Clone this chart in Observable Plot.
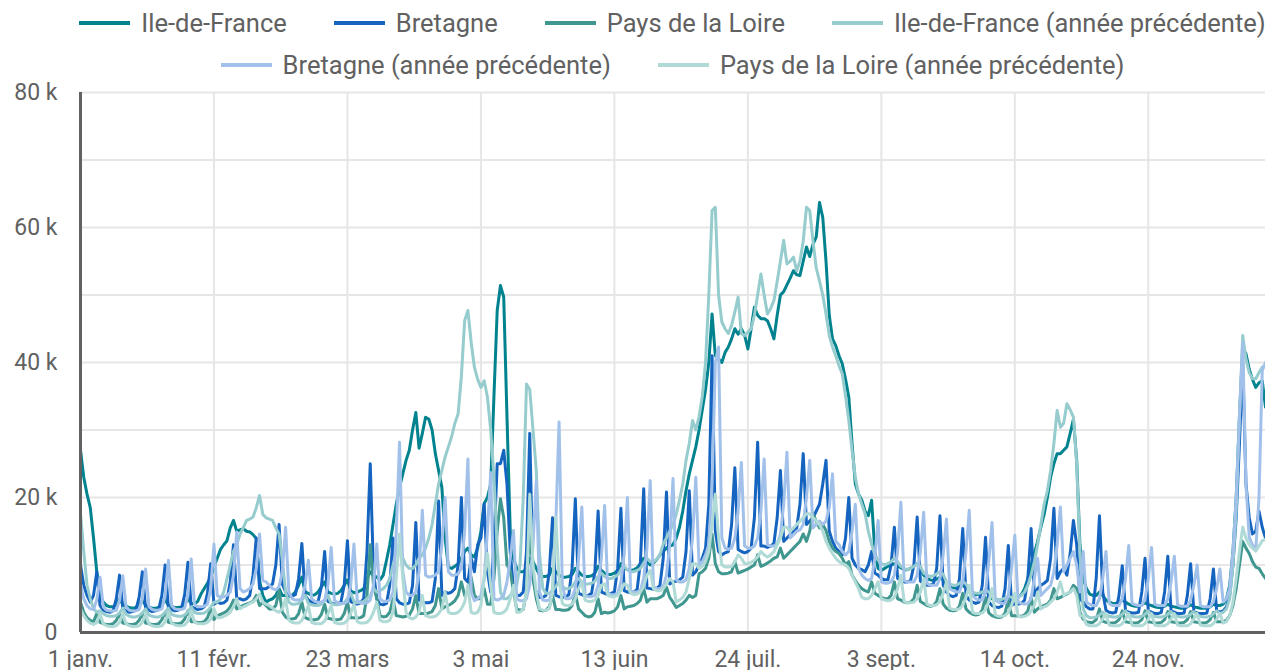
<!DOCTYPE html>
<html>
<head>
<meta charset="utf-8">
<script src="https://cdn.jsdelivr.net/npm/d3@7"></script>
<script src="https://cdn.jsdelivr.net/npm/@observablehq/plot@0.6"></script>
<style>
  html, body { margin: 0; padding: 0; background: #fff; overflow: hidden; }
  #legend { position: relative; height: 82px; width: 1265px; font-family: Roboto, sans-serif; font-size: 25.5px; color: #616161; }
  .row { position: absolute; left: 80px; width: 1185px; display: flex; justify-content: center; gap: 47px; line-height: 36px; white-space: nowrap; }
  .item { display: flex; align-items: center; }
  .sw { display: inline-block; width: 51px; height: 4px; margin-right: 11px; }
</style>
</head>
<body>
<div id="legend"></div>
<div id="chart"></div>
<script>
// Series names and colours
const seriesNames = ["Ile-de-France", "Bretagne", "Pays de la Loire",
  "Ile-de-France (année précédente)", "Bretagne (année précédente)", "Pays de la Loire (année précédente)"];
const seriesColors = ["#00838F", "#1565C0", "#3F978F", "#96CCCE", "#A1C1EA", "#B0DAD6"];

// x tick positions (day of year, 2024) and labels
const xTickDays = [0, 41, 82, 123, 164, 205, 246, 287, 328];
const xTickLabels = ["1 janv.", "11 févr.", "23 mars", "3 mai", "13 juin", "24 juil.", "3 sept.", "14 oct.", "24 nov."];
const yTicks = [0, 20, 40, 60, 80];
const yGrid = [10, 20, 30, 40, 50, 60, 70, 80];

// Daily values in thousands (one line per week, Monday first)
const ileDeFrance = [
27,23,20.5,18.5,14,9,5.5,
4.5,4.0,3.8,3.8,4.2,5.0,4.2,
3.9,3.7,3.6,3.7,4.1,4.8,4.0,
3.8,3.6,3.6,3.7,4.1,4.9,4.0,
3.9,3.7,3.7,3.8,4.2,5.0,4.3,
4.3,4.6,5.7,6.5,7.3,8.2,9.7,
11.0,12.3,13.0,13.6,15.5,16.6,15.0,
15.2,15.4,15.0,14.9,14.5,13.9,7.7,
5.5,4.5,4.8,5.0,5.5,6.5,5.5,
5.5,5.3,5.5,6.0,7.0,8.2,6.0,
5.8,5.5,5.6,6.0,6.8,7.5,6.0,
5.8,5.7,5.8,6.2,7.0,7.8,6.2,
5.9,6.0,6.2,6.5,8.0,9.0,8.5,
8.2,7.8,8.5,10.7,13.0,16.0,19.0,
21.5,23.5,25.5,27.0,30.0,32.6,27.3,
29.5,31.9,31.6,30.0,26.5,24.0,21.5,
14.0,9.7,9.5,9.8,10.2,11.0,12.0,
12.5,11.5,11.2,12.5,15.0,19.1,20.0,
22.0,35.0,47.7,51.4,49.7,32.0,15.1,
11.0,9.5,9.0,9.0,9.5,11.0,10.5,
9.5,8.5,8.3,8.3,8.5,9.5,9.0,
8.5,8.2,8.2,8.3,8.6,9.5,9.0,
8.5,8.3,8.3,8.4,8.8,9.8,9.2,
8.8,8.6,8.6,8.8,9.2,10.2,9.6,
9.3,9.2,9.3,9.6,10.2,11.0,10.5,
10.0,10.3,10.8,11.5,12.0,12.5,12.8,
13.0,14.0,15.6,18.0,21.0,23.5,25.5,
27.5,30.0,33.0,36.0,40.0,47.2,41.0,
40.5,40.0,41.5,42.3,43.5,45.0,44.2,
45.0,44.0,42.0,45.0,48.2,47.0,46.5,
46.5,46.2,45.0,43.5,47.0,50.0,50.5,
51.5,52.5,53.6,53.0,52.9,55.0,57.1,
55.7,57.5,58.6,63.7,61.5,55.0,47.0,
43.5,42.5,41.0,39.8,37.5,34.9,28.0,
22.0,20.5,19.6,18.0,17.3,19.6,12.0,
9.5,9.2,9.5,9.8,10.0,10.2,9.8,
9.6,9.3,9.3,9.5,9.8,10.2,9.5,
8.5,8.0,7.8,7.7,7.9,8.2,7.8,
7.0,6.7,6.6,6.6,6.8,7.0,6.6,
6.0,5.7,5.6,5.7,5.9,6.1,5.7,
5.0,4.8,4.7,4.8,5.0,5.3,5.0,
5.2,5.3,5.6,6.5,8.0,10.0,11.7,
13.5,15.6,17.5,20.0,23.0,25.0,26.5,
26.5,27.0,27.5,29.5,31.6,25.5,13.0,
8.0,6.5,5.7,5.5,5.5,6.0,5.5,
4.8,4.5,4.3,4.3,4.5,4.8,4.5,
4.2,4.0,3.9,3.9,4.1,4.4,4.1,
4.0,3.8,3.7,3.7,3.9,4.2,3.9,
3.8,3.7,3.6,3.6,3.8,4.1,3.8,
3.7,3.6,3.6,3.6,3.8,4.2,4.0,
4.0,4.2,5.0,7.0,12.0,20.0,32.0,
42.0,41.3,39.0,37.5,36.3,37.0,37.3,
33.4];

const bretagne = [
10,7,5.5,4.5,5.5,9,4,
3.3,3.1,3.0,3.2,5.0,8.5,3.5,
3.2,3.0,3.1,3.3,5.2,9.0,3.6,
3.3,3.1,3.2,3.4,5.5,10.0,3.7,
3.4,3.2,3.3,3.5,5.6,10.4,3.8,
3.6,3.4,3.5,3.8,5.8,10.2,4.2,
4.5,4.3,4.4,4.8,7.5,13.0,5.0,
5.0,4.8,5.0,5.5,8.5,14.0,6.5,
6.5,6.5,6.8,7.2,10.0,16.0,7.2,
6.0,5.5,5.4,5.6,8.0,13.2,5.5,
4.8,4.5,4.4,4.6,6.8,12.0,4.6,
4.4,4.2,4.3,4.5,7.0,13.6,4.6,
4.3,4.2,4.4,5.0,12.0,25.0,9.0,
5.0,4.2,4.1,4.3,7.0,14.0,5.0,
4.4,4.2,4.2,4.4,7.0,16.3,4.8,
4.5,4.4,4.4,4.6,8.0,19.5,5.5,
6.0,5.8,6.0,6.5,10.0,20.0,8.0,
7.5,11.0,9.0,13.0,14.0,19.0,9.0,
6.0,13.0,25.0,25.0,27.0,22.0,12.0,
6.5,5.5,5.5,6.0,12.0,29.5,8.0,
6.0,5.2,5.2,5.5,9.0,17.0,5.5,
5.3,5.2,5.3,5.6,9.5,19.8,5.8,
5.6,5.4,5.5,5.8,9.0,18.0,6.0,
5.8,5.6,5.8,6.0,9.5,18.4,6.2,
6.0,5.9,6.0,6.4,10.5,21.3,6.6,
6.5,6.4,6.5,7.0,11.0,20.8,7.2,
7.5,7.6,7.8,8.2,12.0,21.0,8.5,
9.0,10.0,11.0,12.5,19.0,41.0,15.0,
12.0,11.5,11.8,12.0,16.0,24.4,12.3,
12.0,11.8,12.0,12.5,17.0,28.2,12.8,
12.8,12.6,12.8,13.2,17.0,24.0,13.5,
14.0,14.5,15.0,15.5,19.0,26.5,16.0,
16.5,17.0,18.0,19.0,22.0,25.5,15.0,
13.5,12.5,12.0,11.5,14.0,20.0,11.0,
10.0,9.5,9.3,9.0,10.0,12.0,8.8,
8.5,8.0,7.8,7.8,10.0,15.6,8.0,
7.7,7.5,7.5,7.7,10.0,17.1,7.6,
7.2,7.0,7.0,7.2,9.5,17.3,7.0,
6.0,5.5,5.3,5.5,8.0,15.4,5.5,
4.8,4.5,4.3,4.5,7.0,14.1,4.5,
4.0,3.8,3.7,3.9,6.5,12.9,4.0,
4.3,4.2,4.3,4.8,8.0,15.4,5.5,
6.5,7.0,7.3,7.7,11.0,18.4,8.0,
9.0,9.5,8.5,11.7,16.6,13.0,5.0,
4.5,3.8,3.5,3.5,8.0,17.3,6.0,
3.3,3.0,2.9,3.0,5.5,9.9,3.2,
3.0,2.9,2.9,3.0,6.0,11.0,3.2,
3.0,2.8,2.8,3.0,6.0,11.3,3.2,
3.0,2.8,2.8,2.9,5.5,10.2,3.1,
2.9,2.8,2.8,2.9,5.0,9.4,3.2,
3.0,3.2,3.8,5.5,10.0,17.0,28.0,
40.0,22.0,17.0,14.6,15.0,18.0,15.6,
14.0];

const paysDeLaLoire = [
4.5,3.0,2.2,1.8,1.6,2.8,1.5,
1.3,1.2,1.2,1.3,1.8,2.8,1.4,
1.3,1.2,1.2,1.3,1.8,2.8,1.4,
1.3,1.2,1.2,1.3,1.9,3.0,1.5,
1.4,1.3,1.3,1.4,2.0,3.2,1.6,
1.6,1.5,1.5,1.6,2.2,3.5,1.9,
2.5,2.7,2.9,3.2,3.8,4.8,3.5,
3.8,4.0,4.2,4.4,4.6,5.5,4.0,
4.5,4.0,3.5,3.5,4.0,6.2,3.0,
2.3,2.0,2.0,2.1,2.8,4.5,2.2,
2.0,1.9,1.9,2.0,2.7,4.2,2.1,
2.0,1.9,1.9,2.0,2.8,4.5,2.2,
2.2,2.1,2.2,2.5,5.5,13.0,7.0,
5.0,2.5,2.3,2.4,3.0,5.0,2.5,
2.4,2.3,2.4,2.6,3.5,5.5,2.8,
2.8,2.8,2.9,3.1,4.0,6.5,3.5,
3.8,4.0,4.3,4.7,5.5,7.5,5.5,
6.0,8.2,5.5,5.0,5.0,6.5,4.2,
4.2,8.0,15.0,19.8,17.0,10.0,9.2,
6.0,3.5,3.3,3.4,6.0,16.1,8.0,
5.0,3.3,3.2,3.3,3.8,5.5,3.4,
3.4,3.3,3.3,3.4,4.0,5.8,3.5,
3.0,2.5,2.3,2.4,3.0,5.0,2.8,
3.0,2.9,3.0,3.2,3.8,5.5,3.5,
3.8,3.9,4.0,4.3,4.8,6.5,4.5,
5.0,5.0,5.0,5.2,5.5,6.7,5.2,
4.5,3.7,4.0,4.3,4.8,5.5,5.2,
5.5,8.7,9.0,9.5,11.0,14.6,10.2,
9.0,8.7,8.7,8.8,9.0,10.5,8.8,
9.0,9.2,9.4,9.7,10.0,11.5,9.8,
10.0,10.3,10.6,11.0,11.2,12.5,11.0,
11.5,12.0,12.5,13.0,13.5,14.6,13.5,
15.0,17.6,16.5,15.5,16.0,15.1,13.5,
12.5,12.0,11.7,11.0,10.0,10.5,8.5,
7.7,7.0,6.5,6.2,6.0,7.5,5.8,
5.5,5.2,5.0,5.0,5.5,7.5,5.0,
4.8,4.5,4.4,4.5,5.0,7.0,4.6,
4.3,4.0,3.9,4.0,4.6,6.5,4.2,
3.6,3.3,3.2,3.3,3.9,5.8,3.5,
3.0,2.7,2.6,2.7,3.3,5.2,2.9,
2.5,2.3,2.2,2.3,2.9,4.8,2.5,
2.5,2.4,2.4,2.6,3.2,5.2,3.0,
3.5,3.8,4.0,4.2,4.8,6.5,5.0,
5.2,5.5,5.7,6.0,7.0,6.5,3.0,
2.0,1.6,1.5,1.5,1.9,3.5,1.7,
1.5,1.4,1.4,1.5,1.9,3.2,1.6,
1.5,1.4,1.4,1.5,1.9,3.2,1.6,
1.5,1.4,1.4,1.5,1.9,3.1,1.6,
1.5,1.4,1.4,1.5,1.9,3.1,1.6,
1.5,1.4,1.4,1.5,1.9,3.0,1.6,
1.6,1.6,1.8,2.5,4.0,6.5,10.0,
13.5,12.5,11.7,10.5,9.7,9.5,8.7,
8.0];

const ileDeFrancePrev = [
17.6,12.0,7.0,5.0,3.5,3.0,3.2,
2.8,2.5,2.4,2.4,2.5,2.9,3.6,
2.7,2.4,2.3,2.3,2.5,2.9,3.5,
2.6,2.4,2.3,2.3,2.5,3.0,3.6,
2.7,2.5,2.4,2.4,2.6,3.1,3.8,
3.0,2.8,2.8,2.9,3.2,3.8,4.5,
4.5,5.0,6.0,8.0,10.0,12.0,13.0,
14.6,15.5,16.6,16.8,17.1,18.5,20.3,
17.5,17.0,16.8,16.6,15.5,14.6,10.7,
6.0,4.5,4.2,4.2,4.3,4.8,5.5,
4.3,4.1,4.0,4.0,4.2,4.7,5.5,
4.3,4.1,4.1,4.2,4.4,5.0,5.8,
4.6,4.4,4.5,4.6,5.0,5.5,6.5,
6.0,6.2,6.5,7.0,8.0,10.0,12.0,
13.0,11.0,10.0,9.5,9.5,10.0,11.0,
11.5,12.5,14.0,16.0,19.0,22.0,24.0,
26.0,27.5,29.0,31.0,32.4,38.0,46.2,
47.7,43.0,39.3,37.5,36.3,37.3,34.9,
30.0,23.0,12.6,6.0,5.0,5.0,5.5,
6.0,7.0,10.0,20.0,36.8,36.0,30.0,
24.0,11.7,6.5,5.8,5.8,6.2,6.8,
7.5,6.8,6.5,6.5,6.8,7.5,8.0,
7.5,7.2,7.2,7.3,7.6,8.3,8.8,
8.3,8.0,8.0,8.2,8.5,9.2,9.8,
9.3,9.0,9.0,9.2,9.5,10.3,11.0,
10.5,10.5,10.8,11.5,13.1,14.0,15.0,
16.0,17.5,19.6,22.0,25.5,28.0,31.4,
30.0,32.0,35.0,40.0,50.0,62.5,63.0,
50.0,46.0,45.0,44.3,45.5,47.5,49.7,
44.3,44.0,44.5,45.0,47.0,50.0,53.1,
50.0,47.2,48.0,49.2,52.0,55.0,58.1,
54.6,55.0,55.6,53.6,55.0,58.0,63.0,
62.5,58.0,54.0,52.1,50.0,47.2,44.0,
42.3,41.0,39.5,38.3,35.0,31.4,27.0,
23.0,20.5,19.0,17.6,15.0,13.1,11.5,
10.7,10.2,10.0,10.2,10.5,11.0,10.5,
9.8,9.5,9.3,9.5,9.8,10.2,9.8,
8.8,8.5,8.3,8.4,8.7,9.0,8.6,
7.5,7.2,7.0,7.0,7.3,7.6,7.2,
6.3,6.0,5.8,5.8,6.0,6.3,6.0,
5.3,5.0,4.9,4.9,5.1,5.4,5.2,
5.0,5.2,5.5,6.0,7.0,8.5,10.5,
13.0,16.0,19.0,21.0,24.0,28.0,32.9,
30.4,31.0,33.9,33.0,31.9,25.0,11.7,
3.5,2.5,2.2,2.2,2.3,2.6,3.0,
2.6,2.4,2.3,2.3,2.4,2.7,3.2,
2.6,2.4,2.3,2.3,2.4,2.7,3.2,
2.6,2.4,2.3,2.3,2.4,2.7,3.1,
2.6,2.4,2.3,2.3,2.4,2.7,3.1,
2.6,2.4,2.3,2.3,2.4,2.8,3.2,
2.8,3.0,3.5,5.0,10.0,18.0,32.0,
44.0,40.5,38.5,37.6,37.6,38.5,39.3,
39.5];

const bretagnePrev = [
7.2,5.0,4.0,3.5,3.4,4.8,8.2,
3.8,3.3,3.2,3.2,3.3,4.8,8.4,
3.8,3.3,3.2,3.2,3.4,5.0,9.4,
3.9,3.4,3.3,3.3,3.5,5.5,10.7,
4.0,3.5,3.4,3.4,3.6,5.6,10.9,
4.2,3.8,3.8,3.9,4.2,6.5,13.1,
5.5,5.2,5.3,5.5,6.0,8.5,14.9,
6.5,6.0,6.2,6.5,7.2,9.5,14.6,
7.7,7.5,7.0,6.5,6.3,6.8,9.0,
15.6,6.0,5.0,4.8,4.8,5.0,7.0,
10.7,5.0,4.6,4.5,4.5,4.8,7.0,
12.6,4.8,4.4,4.3,4.3,4.6,7.0,
13.1,4.8,4.4,4.3,4.4,4.8,7.0,
13.1,5.0,4.6,4.6,4.8,6.0,15.0,
28.2,9.0,6.0,5.5,5.5,6.0,9.0,
18.1,8.5,8.2,8.3,8.5,9.0,13.0,
20.0,9.0,8.5,8.5,8.7,9.5,15.0,
25.7,6.0,4.7,5.0,5.5,8.0,15.0,
23.7,5.0,4.8,5.0,5.5,7.5,11.0,
15.1,5.0,4.7,4.7,5.0,7.0,13.0,
22.5,6.0,4.8,4.7,4.8,6.5,16.0,
31.2,7.0,5.0,5.0,5.2,6.5,11.0,
18.6,5.5,5.3,5.3,5.5,7.0,11.0,
18.8,5.8,5.6,5.6,5.8,7.5,11.5,
20.0,6.2,6.0,6.0,6.2,8.0,12.5,
22.5,6.8,6.5,6.5,6.8,8.5,13.0,
22.8,7.8,7.5,7.5,7.8,9.5,14.0,
23.0,10.0,10.5,11.5,13.0,22.0,40.0,
42.3,14.0,12.5,12.3,12.5,14.0,18.0,
25.2,12.8,12.5,12.5,12.8,14.0,18.0,
25.7,13.0,12.8,12.8,13.2,14.5,19.0,
26.7,14.0,14.5,15.0,15.2,16.0,20.0,
25.5,15.5,16.0,16.5,16.0,16.5,18.5,
23.5,13.5,13.0,12.0,11.5,12.0,15.0,
19.0,9.5,8.5,8.0,7.7,8.0,11.0,
16.6,7.5,7.3,7.3,7.5,8.5,12.0,
19.3,7.7,7.5,7.5,7.5,8.5,12.0,
17.8,7.3,7.0,7.0,7.0,8.0,11.5,
16.8,6.5,6.2,6.0,6.0,7.5,12.0,
18.1,5.5,5.0,4.8,4.8,6.0,10.5,
16.3,4.8,4.5,4.3,4.3,5.5,9.5,
14.4,4.5,4.3,4.2,4.3,5.0,8.0,
11.0,5.5,6.0,6.5,7.0,9.0,13.0,
18.6,9.0,10.0,11.0,12.0,10.0,6.0,
12.0,4.5,4.2,4.0,4.0,5.0,8.0,
12.0,4.3,4.0,4.0,4.0,5.0,8.0,
12.9,4.3,4.1,4.0,4.0,5.0,8.0,
12.6,4.2,4.0,4.0,4.0,5.0,7.5,
11.3,4.1,3.9,3.9,3.9,4.8,7.0,
10.0,4.0,3.8,3.8,3.8,4.6,6.5,
9.4,4.5,5.0,6.5,12.0,20.0,32.0,
43.0,22.0,14.1,13.0,12.1,20.0,38.8,
40.0];

const paysDeLaLoirePrev = [
3.5,2.5,1.8,1.4,1.2,1.5,2.8,
1.3,1.0,0.9,0.9,1.0,1.5,2.8,
1.3,1.0,0.9,0.9,1.0,1.5,2.8,
1.3,1.0,0.9,0.9,1.0,1.6,3.0,
1.4,1.1,1.0,1.0,1.1,1.7,3.2,
1.6,1.3,1.3,1.3,1.5,2.0,3.5,
2.2,2.2,2.4,2.6,3.0,3.8,5.0,
3.5,3.8,4.0,4.3,4.5,5.0,5.7,
4.5,4.2,4.0,3.6,3.2,3.0,3.5,
5.0,1.8,1.5,1.4,1.4,1.8,2.8,
4.0,1.5,1.3,1.3,1.3,1.7,2.7,
4.0,1.5,1.3,1.3,1.4,1.8,2.8,
4.2,1.6,1.4,1.4,1.5,2.0,3.0,
4.5,1.8,1.6,1.6,1.8,3.0,8.0,
14.6,8.0,3.0,2.2,2.0,2.3,3.0,
5.5,2.5,2.3,2.3,2.4,2.8,3.5,
6.0,3.0,2.8,2.8,3.0,3.5,4.5,
7.0,3.0,2.8,3.0,4.0,8.0,11.7,
7.0,3.0,2.8,2.8,3.0,3.5,5.0,
7.0,3.0,3.0,3.5,6.0,20.5,10.0,
6.0,3.5,3.3,3.3,3.5,6.0,17.1,
8.0,4.3,4.0,4.0,4.2,5.0,6.5,
7.5,4.8,4.6,4.6,4.8,5.5,7.0,
7.2,5.5,5.3,5.3,5.5,6.2,7.2,
7.0,5.8,5.6,5.7,6.0,6.8,8.5,
9.2,6.5,6.2,6.2,6.5,7.2,8.0,
7.5,4.5,4.8,5.2,6.0,8.0,10.2,
10.2,9.5,9.8,10.5,12.0,16.0,20.5,
14.0,10.0,9.7,9.7,9.8,10.5,11.5,
11.0,10.2,10.2,10.4,10.7,11.2,12.0,
11.5,11.2,11.5,12.0,13.0,14.0,15.6,
15.6,15.0,15.5,16.0,16.5,17.0,17.6,
17.6,17.0,16.6,16.0,15.0,13.5,12.5,
11.7,11.0,10.5,10.2,10.0,9.5,8.5,
7.5,6.5,5.2,5.0,5.0,5.5,6.5,
7.5,5.0,4.8,4.7,4.8,5.2,6.5,
8.5,4.6,4.4,4.4,4.5,5.0,6.0,
8.0,4.2,4.0,4.0,4.1,4.6,5.8,
7.5,3.6,3.4,3.4,3.5,4.0,5.2,
7.0,3.0,2.8,2.8,2.9,3.4,4.6,
6.5,2.6,2.4,2.4,2.5,3.0,4.0,
5.8,2.4,2.3,2.4,2.6,3.2,4.0,
6.0,3.5,3.8,4.0,4.5,5.0,6.0,
7.5,5.5,5.8,6.0,6.5,5.5,2.5,
2.5,1.2,1.0,1.0,1.0,1.3,2.0,
2.8,1.1,1.0,1.0,1.0,1.3,2.0,
2.8,1.1,1.0,1.0,1.0,1.3,2.0,
2.8,1.1,1.0,1.0,1.0,1.3,2.0,
2.8,1.1,1.0,1.0,1.0,1.3,2.0,
2.8,1.1,1.0,1.0,1.0,1.3,2.0,
2.8,1.4,1.6,2.5,4.5,8.0,12.0,
15.6,14.0,13.0,12.5,12.1,12.8,13.6,
13.8];

const seriesValues = [ileDeFrance, bretagne, paysDeLaLoire, ileDeFrancePrev, bretagnePrev, paysDeLaLoirePrev];
seriesValues.forEach((a, i) => { if (a.length !== 365) throw new Error(seriesNames[i] + " has " + a.length + " values"); });

// Legend (two rows, as in the reference)
const legend = document.getElementById("legend");
const rowsSpec = [[0, 1, 2, 3], [4, 5]];
const rowTops = [5, 47];
rowsSpec.forEach((idxs, r) => {
  const row = document.createElement("div");
  row.className = "row";
  row.style.top = rowTops[r] + "px";
  idxs.forEach(i => {
    const it = document.createElement("div");
    it.className = "item";
    const sw = document.createElement("span");
    sw.className = "sw";
    sw.style.background = seriesColors[i];
    const tx = document.createElement("span");
    tx.textContent = seriesNames[i];
    it.appendChild(sw); it.appendChild(tx);
    row.appendChild(it);
  });
  legend.appendChild(row);
});

const lineMarks = seriesValues.map((vals, i) =>
  Plot.line(vals.map((v, d) => ({day: d, value: v})), {
    x: "day", y: "value", stroke: seriesColors[i], strokeWidth: 3, strokeLinejoin: "round", strokeLinecap: "round"
  })
);

const chart = Plot.plot({
  width: 1265,
  height: 590,
  marginLeft: 80,
  marginRight: 0,
  marginTop: 10,
  marginBottom: 40,
  style: {fontFamily: "Roboto, sans-serif", fontSize: "23px", color: "#616161", background: "#fff", overflow: "visible"},
  x: {domain: [0, 364], axis: null},
  y: {domain: [0, 80], axis: null},
  marks: [
    Plot.ruleY(yGrid, {stroke: "#e6e6e6", strokeWidth: 2}),
    Plot.ruleX(xTickDays.slice(1), {stroke: "#e6e6e6", strokeWidth: 2}),
    ...lineMarks,
    Plot.ruleX([0], {stroke: "#616161", strokeWidth: 3}),
    Plot.ruleY([0], {stroke: "#616161", strokeWidth: 3}),
    Plot.axisY(yTicks, {label: null, tickSize: 0, tickPadding: 23, tickFormat: d => d === 0 ? "0" : `${d} k`}),
    Plot.axisX(xTickDays, {label: null, tickSize: 0, tickPadding: 18, tickFormat: d => xTickLabels[xTickDays.indexOf(d)]})
  ]
});
document.getElementById("chart").appendChild(chart);
</script>
</body>
</html>
